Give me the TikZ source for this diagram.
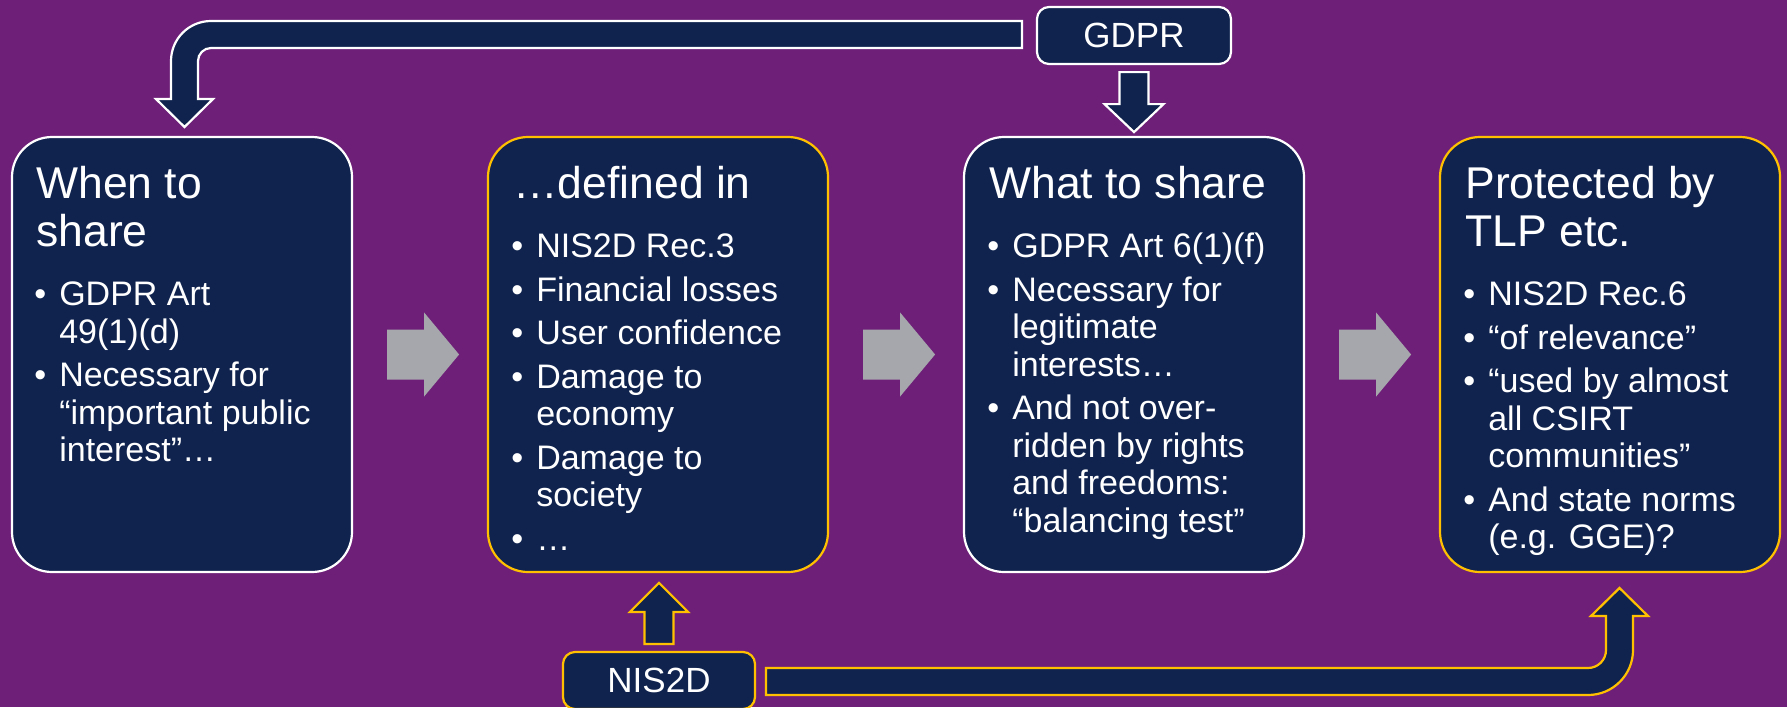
\documentclass[tikz,border=0pt]{standalone}
\usepackage{fontspec}
\setmainfont{Liberation Sans}
\usetikzlibrary{calc}
\definecolor{bgpurple}{RGB}{110,32,120}
\definecolor{navy}{RGB}{16,35,78}
\definecolor{gold}{RGB}{255,192,0}
\definecolor{arrgray}{RGB}{166,166,173}
\newcommand\bitem[1]{\par\vspace{3pt}\noindent\hangindent=11.5pt\hangafter=1\makebox[11.5pt][l]{\hspace{-1pt}\textbullet}#1}
\newcommand\boxtext[2]{\parbox[t]{170pt}{\fontsize{22.25pt}{24pt}\selectfont #1\par\vspace{7.75pt}\fontsize{17pt}{18.75pt}\selectfont #2\par}}
\begin{document}
\begin{tikzpicture}[x=0.5pt,y=-0.5pt,
  box/.style={draw=white, line width=1.1pt, fill=navy, rounded corners=20pt, minimum width=170pt, minimum height=217.5pt, inner sep=0pt},
  goldbox/.style={box, draw=gold},
  lbl/.style={fill=navy, line width=1.1pt, rounded corners=6pt, text=white, font=\fontsize{17.5pt}{20pt}\selectfont, inner sep=0pt, minimum width=97pt, minimum height=28.5pt},
  txt/.style={anchor=base west, inner sep=0pt, text=white},
  bigarr/.style={fill=navy, line width=1.1pt, line join=miter},
  grayarr/.style={fill=arrgray}
]
\useasboundingbox (0,0) rectangle (1787,707);
\fill[bgpurple] (0,0) rectangle (1787,707);

\node[box] (b1) at (182,354.5) {};
\node[goldbox] (b2) at (658,354.5) {};
\node[box] (b3) at (1134,354.5) {};
\node[goldbox] (b4) at (1610,354.5) {};

\node[lbl, draw=white] (gdpr) at (1134,35.5) {GDPR};
\node[lbl, draw=gold, minimum width=96pt] (nis) at (659,680.5) {NIS2D};

% gray block arrows between boxes
\foreach \a in {b1,b2,b3}
  \fill[grayarr, shift={(\a.east)}] (34,-25) -- (71,-25) -- (71,-42) -- (106,0) -- (71,42) -- (71,25) -- (34,25) -- cycle;

% GDPR down arrow
\draw[bigarr, draw=white, shift={(gdpr.south)}] (-14.5,7) -- (14.5,7) -- (14.5,39) -- (29.5,39) -- (0,67) -- (-29.5,39) -- (-14.5,39) -- cycle;
% NIS2D up arrow
\draw[bigarr, draw=gold, shift={(nis.north)}] (-14.5,-7) -- (14.5,-7) -- (14.5,-39) -- (29,-39) -- (0,-68) -- (-29,-39) -- (-14.5,-39) -- cycle;

% GDPR bent arrow to box 1
\draw[bigarr, draw=white] (1022,21) -- (211,21) arc[start angle=90, end angle=180, radius=20pt] -- (171,99) -- (156,99) -- (184.5,127) -- (213,99) -- (198,99) -- (198,61) arc[start angle=180, end angle=90, radius=6.5pt] -- (1022,48) -- cycle;
% NIS2D bent arrow to box 4
\draw[bigarr, draw=gold] (766,668) -- (1588,668) arc[start angle=270, end angle=360, radius=9pt] -- (1606,616) -- (1591,616) -- (1619.5,588) -- (1648,616) -- (1633,616) -- (1633,650) arc[start angle=0, end angle=-90, radius=22.5pt] -- (766,695) -- cycle;

\node[txt] (t1) at ($(b1.north west)+(25,63)$) {\boxtext{When to\\share}{\bitem{GDPR Art\\49(1)(d)}\bitem{Necessary for\\“important public\\interest”…}}};
\node[txt] (t2) at ($(b2.north west)+(26,63)$) {\boxtext{…defined in}{\bitem{NIS2D Rec.3}\bitem{Financial losses}\bitem{User confidence}\bitem{Damage to\\economy}\bitem{Damage to\\society}\bitem{…}}};
\node[txt] (t3) at ($(b3.north west)+(26,63)$) {\boxtext{What to share}{\bitem{GDPR Art 6(1)(f)}\bitem{Necessary for\\legitimate\\interests…}\bitem{And not over-\\ridden by rights\\and freedoms:\\“balancing test”}}};
\node[txt] (t4) at ($(b4.north west)+(26,63)$) {\boxtext{Protected by\\TLP etc.}{\bitem{NIS2D Rec.6}\bitem{“of relevance”}\bitem{“used by almost\\all CSIRT\\communities”}\bitem{And state norms\\(e.g. GGE)?}}};
\end{tikzpicture}
\end{document}
